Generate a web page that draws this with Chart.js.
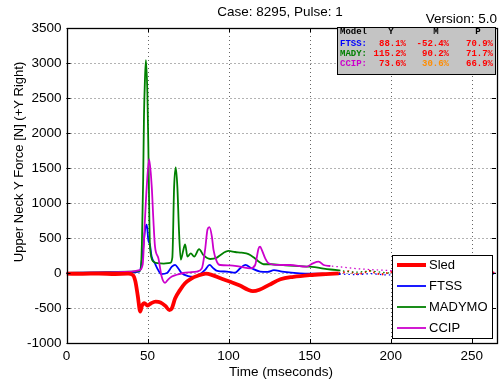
<!DOCTYPE html>
<html>
<head>
<meta charset="utf-8">
<script src="https://cdn.jsdelivr.net/npm/chart.js@4/dist/chart.umd.min.js"></script>
<style>
html,body{margin:0;padding:0;background:#fff;}
canvas{display:block;}
</style>
</head>
<body>
<canvas id="c" width="501" height="383"></canvas>
<script>
// ---- data ----
const xTicks = [0, 50, 100, 150, 200, 250];
const yTicks = [-1000, -500, 0, 500, 1000, 1500, 2000, 2500, 3000, 3500];

const sledT = [0, 10, 20, 30, 38, 41, 42.5, 44, 45.5, 46.5, 48, 50, 52, 55, 58, 61, 63.5, 65, 67, 70, 73, 77, 81, 86, 90, 95, 101, 107, 112, 115, 119, 125, 132, 140, 150, 160, 168];
const sledY = [-10, -12, -8, -14, -10, -30, -120, -330, -550, -470, -430, -465, -435, -410, -420, -470, -530, -505, -365, -245, -150, -80, -40, -10, -30, -75, -125, -180, -240, -260, -240, -170, -90, -55, -30, -15, -5];
const sledTailT = [168, 174, 180, 187, 194, 201, 210, 220, 232, 244, 255, 265];
const sledTailY = [-5, 25, -20, 30, -25, 20, -15, 25, -20, 15, -25, 10];

const ftssT = [0, 20, 40, 45, 47, 48.5, 49.5, 50.5, 51.5, 52.5, 54.5, 56.5, 58.5, 62, 65, 67, 69, 71, 75, 79, 82.5, 85.5, 88.3, 90.5, 93, 99, 104, 107, 110.3, 114.4, 119.5, 124, 128, 133, 144, 155, 169];
const ftssY = [0, 5, 10, 20, 285, 620, 690, 470, 400, 235, 140, 45, -15, 0, 90, 115, 65, 0, -45, -55, -15, 45, 115, 70, 30, 20, 5, 65, 115, 65, 20, 15, 40, 20, -5, -10, -15];
const ftssTailT = [169, 178, 188, 198, 210, 225, 240, 255, 265];
const ftssTailY = [-15, -25, -10, -30, -15, -25, -10, -20, -15];

const madyT = [0, 20, 40, 45.5, 46.5, 47.3, 47.8, 48.4, 49, 49.9, 50.5, 51.5, 53.5, 56.5, 60, 64, 65.3, 66.4, 67.4, 68.4, 69.4, 70.5, 72.1, 73.2, 74.6, 76.7, 78.8, 81.8, 84.5, 88.6, 92.8, 94.8, 100, 104, 108, 112.3, 115.4, 118.5, 121.6, 126, 135, 150, 163, 169];
const madyY = [0, 10, 20, 35, 400, 1330, 2230, 2760, 3040, 2570, 1800, 380, 165, 140, 135, 145, 220, 1230, 1510, 1230, 610, 190, 330, 410, 235, 280, 235, 340, 255, 200, 220, 255, 315, 300, 290, 270, 225, 165, 125, 125, 110, 90, 50, 35];
const madyTailT = [169, 178, 188, 198, 210, 225, 240, 255, 265];
const madyTailY = [35, 10, 30, 0, 15, -10, 5, -10, 0];

const ccipT = [0, 20, 40, 45, 47, 48.4, 49.5, 51, 52.6, 53.6, 54.6, 56.7, 58.7, 60.8, 62.8, 65, 68, 72, 76, 80.4, 83.5, 85.5, 87, 88.2, 89.7, 90.7, 92.8, 94.8, 101, 107, 113.4, 116.4, 118.5, 119.5, 120.5, 122.6, 124.7, 131, 138, 148, 152, 155.6, 158.7, 162.8];
const ccipY = [0, 10, 20, 40, 120, 760, 1230, 1625, 1230, 760, 380, 210, -50, -140, -90, -50, -25, 0, 10, 20, 65, 330, 620, 655, 520, 330, 160, 114, 110, 90, 67, 114, 350, 376, 330, 210, 140, 115, 114, 90, 138, 162, 114, 100];
const ccipTailT = [162.8, 170, 180, 190, 200, 212, 225, 240, 255, 265];
const ccipTailY = [100, 85, 60, 45, 35, 25, 20, 10, 5, 0];

const seriesNames = ['Sled', 'FTSS', 'MADYMO', 'CCIP'];
const seriesColors = ['#ff0000', '#0000ff', '#008000', '#cc00cc'];
const seriesWidths = [3.8, 1.8, 1.8, 1.8];

const tableHeader = ['Model', 'Y', 'M', 'P'];
const tableRows = ['FTSS:', 'MADY:', 'CCIP:'];
const tableY = ['88.1%', '115.2%', '73.6%'];
const tableM = ['-52.4%', '90.2%', '30.6%'];
const tableP = ['70.9%', '71.7%', '66.9%'];
const tableMColors = ['#ff0000', '#ff0000', '#ff8c00'];

// ---- build ----
const zip = (t, y) => t.map((v, i) => ({x: v, y: y[i]}));
const mains = [[sledT, sledY], [ftssT, ftssY], [madyT, madyY], [ccipT, ccipY]];
const tails = [[sledTailT, sledTailY], [ftssTailT, ftssTailY], [madyTailT, madyTailY], [ccipTailT, ccipTailY]];

const datasets = [];
tails.forEach((d, i) => datasets.push({
  label: seriesNames[i] + ' tail', data: zip(d[0], d[1]),
  borderColor: seriesColors[i], borderWidth: i === 0 ? 2 : 1.2,
  borderDash: [1.5, 3], borderDashOffset: i, pointRadius: 0, tension: 0, order: 10 - i
}));
mains.forEach((d, i) => datasets.push({
  label: seriesNames[i], data: zip(d[0], d[1]),
  borderColor: seriesColors[i], borderWidth: seriesWidths[i],
  pointRadius: 0, cubicInterpolationMode: 'monotone', order: i === 0 ? 0 : 5 - i
}));

const FONT = '"Liberation Sans", Arial, sans-serif';

const decor = {
  id: 'decor',
  beforeDatasetsDraw(chart) {
    const {ctx, chartArea: a, scales: {x, y}} = chart;
    ctx.save();
    ctx.strokeStyle = 'rgba(0,0,0,0.6)';
    ctx.lineWidth = 1;
    ctx.setLineDash([1, 3]);
    xTicks.forEach(v => {
      const px = Math.round(x.getPixelForValue(v)) + 0.5;
      if (px <= a.left + 1 || px >= a.right - 1) return;
      ctx.beginPath(); ctx.moveTo(px, a.top); ctx.lineTo(px, a.bottom); ctx.stroke();
    });
    yTicks.forEach(v => {
      const py = Math.round(y.getPixelForValue(v)) + 0.5;
      if (py <= a.top + 1 || py >= a.bottom - 1) return;
      ctx.beginPath(); ctx.moveTo(a.left, py); ctx.lineTo(a.right, py); ctx.stroke();
    });
    ctx.restore();
  },
  afterDatasetsDraw(chart) {
    const {ctx, chartArea: a, scales: {x, y}} = chart;
    ctx.save();
    ctx.strokeStyle = '#000';
    ctx.lineWidth = 1.3;
    ctx.strokeRect(Math.round(a.left) + 0.5, Math.round(a.top) + 0.5, Math.round(a.right - a.left), Math.round(a.bottom - a.top));
    ctx.lineWidth = 1;
    const tl = 4;
    xTicks.forEach(v => {
      const px = Math.round(x.getPixelForValue(v)) + 0.5;
      ctx.beginPath();
      ctx.moveTo(px, a.bottom); ctx.lineTo(px, a.bottom - tl);
      ctx.moveTo(px, a.top); ctx.lineTo(px, a.top + tl);
      ctx.stroke();
    });
    yTicks.forEach(v => {
      const py = Math.round(y.getPixelForValue(v)) + 0.5;
      ctx.beginPath();
      ctx.moveTo(a.left, py); ctx.lineTo(a.left + tl, py);
      ctx.moveTo(a.right, py); ctx.lineTo(a.right - tl, py);
      ctx.stroke();
    });

    // titles
    ctx.fillStyle = '#000';
    ctx.font = '13.5px ' + FONT;
    ctx.textAlign = 'center'; ctx.textBaseline = 'middle';
    ctx.fillText('Case: 8295, Pulse: 1', 280, 12);
    ctx.textAlign = 'right';
    ctx.fillText('Version: 5.0', 497, 19);
    ctx.textAlign = 'center';
    ctx.fillText('Time (mseconds)', 281, 372);
    ctx.save();
    ctx.translate(19, 162);
    ctx.rotate(-Math.PI / 2);
    ctx.font = '13px ' + FONT;
    ctx.fillText('Upper Neck Y Force [N] (+Y Right)', 0, 0);
    ctx.restore();

    // stats table
    const tx0 = 337, ty0 = 27, tx1 = 496, ty1 = 75;
    ctx.fillStyle = '#c4c4c4';
    ctx.fillRect(tx0, ty0, tx1 - tx0, ty1 - ty0);
    ctx.strokeStyle = '#000';
    ctx.lineWidth = 1;
    ctx.strokeRect(tx0 + 0.5, ty0 + 0.5, tx1 - tx0 - 1, ty1 - ty0 - 1);
    ctx.font = 'bold 9px "Liberation Mono", "Courier New", monospace';
    ctx.textBaseline = 'middle';
    ctx.fillStyle = '#000';
    ctx.textAlign = 'left';
    ctx.fillText(tableHeader[0], 340, 32);
    ctx.textAlign = 'center';
    ctx.fillText(tableHeader[1], 391, 32);
    ctx.fillText(tableHeader[2], 436, 32);
    ctx.fillText(tableHeader[3], 478, 32);
    const rowY = [44, 54, 64];
    tableRows.forEach((r, i) => {
      ctx.textAlign = 'left';
      ctx.fillStyle = seriesColors[i + 1];
      ctx.fillText(r, 340, rowY[i]);
      ctx.textAlign = 'right';
      ctx.fillStyle = '#ff0000';
      ctx.fillText(tableY[i], 406, rowY[i]);
      ctx.fillStyle = tableMColors[i];
      ctx.fillText(tableM[i], 449, rowY[i]);
      ctx.fillStyle = '#ff0000';
      ctx.fillText(tableP[i], 493, rowY[i]);
    });

    // legend
    const lx0 = 392, ly0 = 255, lx1 = 492, ly1 = 338;
    ctx.fillStyle = '#fff';
    ctx.fillRect(lx0, ly0, lx1 - lx0, ly1 - ly0);
    ctx.strokeStyle = '#000';
    ctx.strokeRect(lx0 + 0.5, ly0 + 0.5, lx1 - lx0, ly1 - ly0);
    const legY = [265, 286, 307, 328];
    ctx.font = '13px ' + FONT;
    ctx.textAlign = 'left';
    ctx.textBaseline = 'middle';
    seriesNames.forEach((n, i) => {
      ctx.strokeStyle = seriesColors[i];
      ctx.lineWidth = i === 0 ? 4 : 1.8;
      ctx.beginPath(); ctx.moveTo(397, legY[i]); ctx.lineTo(426, legY[i]); ctx.stroke();
      ctx.fillStyle = '#000';
      ctx.fillText(n, 429, legY[i] + 0.5);
    });
    ctx.restore();
  }
};

new Chart(document.getElementById('c'), {
  type: 'line',
  data: {datasets},
  options: {
    responsive: false,
    animation: false,
    layout: {padding: {top: 28, right: 5, left: 0, bottom: 0}},
    plugins: {legend: {display: false}, tooltip: {enabled: false}, title: {display: false}},
    scales: {
      x: {
        type: 'linear', min: 0, max: 265,
        afterBuildTicks: s => { s.ticks = xTicks.map(v => ({value: v})); },
        afterFit: s => { s.height = 40; },
        grid: {display: false, drawTicks: false},
        border: {display: false},
        ticks: {color: '#000', font: {family: FONT, size: 13.5}, padding: 5, maxRotation: 0, autoSkip: false,
                callback: v => String(v)}
      },
      y: {
        type: 'linear', min: -1000, max: 3500,
        afterBuildTicks: s => { s.ticks = yTicks.map(v => ({value: v})); },
        afterFit: s => { s.width = 66.5; },
        grid: {display: false, drawTicks: false},
        border: {display: false},
        ticks: {color: '#000', font: {family: FONT, size: 13.5}, padding: 5, autoSkip: false,
                callback: v => String(v)}
      }
    }
  },
  plugins: [decor]
});
</script>
</body>
</html>
